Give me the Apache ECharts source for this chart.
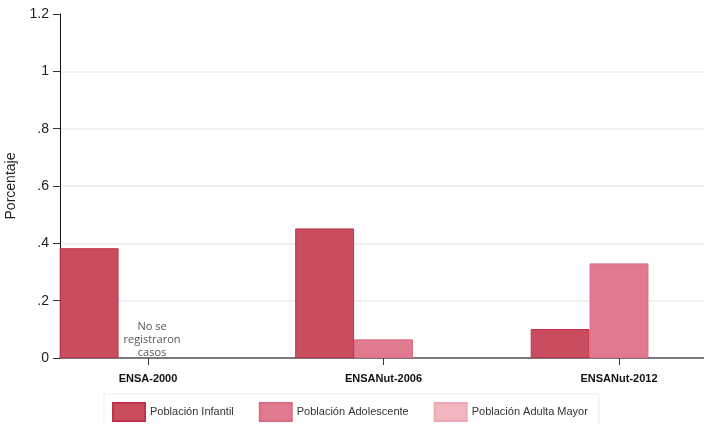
<!DOCTYPE html>
<html>
<head>
<meta charset="utf-8">
<script src="https://cdn.jsdelivr.net/npm/echarts@6/dist/echarts.min.js"></script>
<style>html,body{margin:0;padding:0;background:#fff}#c{width:704px;height:424px}</style>
</head>
<body>
<div id="c"></div>
<script>
const categories = ['ENSA-2000', 'ENSANut-2006', 'ENSANut-2012'];
const infantil = [0.383, 0.452, 0.101];
const adolescente = [null, 0.065, 0.330];
const adultaMayor = [null, null, null];
const seriesNames = ['Población Infantil', 'Población Adolescente', 'Población Adulta Mayor'];
const yTicks = { min: 0, max: 1.2, interval: 0.2 };
const noteText = 'No se\nregistraron\ncasos';

const FONT = '"Liberation Sans", Arial, sans-serif';
const chart = echarts.init(document.getElementById('c'), null, { renderer: 'canvas' });

function yFmt(v) {
  const s = String(Math.round(v * 10) / 10);
  return s.replace(/^0\./, '.');
}

const option = {
  backgroundColor: '#fff',
  animation: false,
  textStyle: { fontFamily: FONT },
  grid: [
    { left: 30.25, width: 706.5, top: 14, height: 344, outerBoundsMode: 'none', containLabel: false },
    { left: 60, right: 0, top: 14, height: 344, outerBoundsMode: 'none', containLabel: false }
  ],
  legend: {
    data: seriesNames,
    left: 104,
    top: 394,
    orient: 'horizontal',
    icon: 'rect',
    itemWidth: 32,
    itemHeight: 18,
    itemGap: 25,
    padding: [8, 11, 8, 8],
    borderColor: '#e4ebed',
    borderWidth: 1,
    textStyle: { fontFamily: FONT, fontSize: 11, color: '#333' }
  },
  xAxis: [
    {
      type: 'category', gridIndex: 0, data: categories,
      axisLine: { show: false },
      axisTick: { show: true, alignWithLabel: true, length: 7, lineStyle: { color: '#333' } },
      axisLabel: { margin: 15, fontFamily: FONT, fontSize: 11, fontWeight: 'bold', color: '#111' },
      splitLine: { show: false }
    },
    {
      type: 'category', gridIndex: 1, data: categories,
      axisLine: { show: true, lineStyle: { color: '#7a7a7a', width: 2 } },
      axisTick: { show: false },
      axisLabel: { show: false },
      splitLine: { show: false }
    }
  ],
  yAxis: [
    {
      type: 'value', gridIndex: 0, min: yTicks.min, max: yTicks.max, interval: yTicks.interval,
      show: false, splitLine: { show: false }
    },
    {
      type: 'value', gridIndex: 1, min: yTicks.min, max: yTicks.max, interval: yTicks.interval,
      name: 'Porcentaje', nameLocation: 'middle', nameRotate: 90, nameGap: 42,
      nameTextStyle: { fontFamily: FONT, fontSize: 14, color: '#222' },
      axisLine: { show: true, lineStyle: { color: '#111', width: 1 } },
      axisTick: { show: true, length: 7, lineStyle: { color: '#333' } },
      axisLabel: { formatter: yFmt, fontFamily: FONT, fontSize: 14, color: '#222', margin: 11 },
      splitLine: { show: true, showMinLine: false, showMaxLine: false, lineStyle: { color: '#e4eced', width: 1.5 } }
    }
  ],
  series: [
    {
      name: seriesNames[0], type: 'bar', xAxisIndex: 0, yAxisIndex: 0,
      data: infantil, barCategoryGap: '25%', barGap: '0%',
      itemStyle: { color: '#c94d5e', borderColor: '#c2314a', borderWidth: 1 }
    },
    {
      name: seriesNames[1], type: 'bar', xAxisIndex: 0, yAxisIndex: 0,
      data: adolescente, barCategoryGap: '25%', barGap: '0%',
      itemStyle: { color: '#e07a8f', borderColor: '#dd6983', borderWidth: 1 },
      markPoint: {
        symbol: 'circle', symbolSize: 0,
        data: [{ coord: [categories[0], 0], value: 0 }],
        label: {
          show: true, position: 'top', distance: -1,
          formatter: noteText,
          fontFamily: '"Open Sans", "DejaVu Sans", sans-serif', fontSize: 11, lineHeight: 13,
          color: '#555', align: 'center', offset: [4, 0]
        }
      }
    },
    {
      name: seriesNames[2], type: 'bar', xAxisIndex: 0, yAxisIndex: 0,
      data: adultaMayor, barCategoryGap: '25%', barGap: '0%',
      itemStyle: { color: '#f2b6c1', borderColor: '#eea8b5', borderWidth: 1 }
    }
  ]
};
chart.setOption(option);
</script>
</body>
</html>
